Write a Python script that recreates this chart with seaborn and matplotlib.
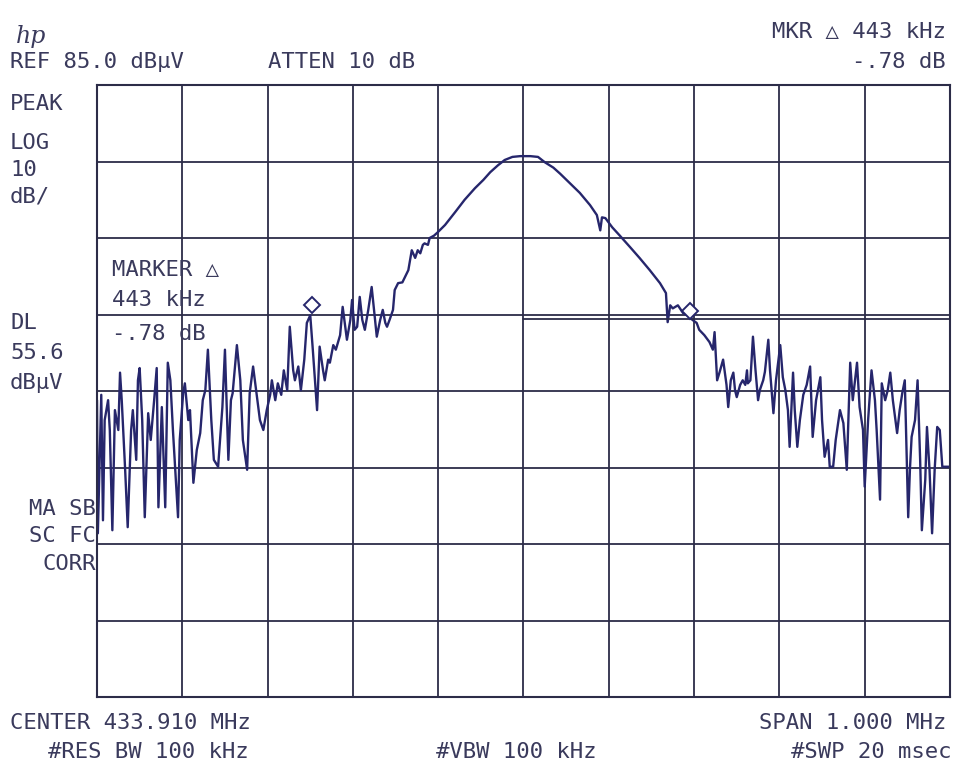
import numpy as np
import pandas as pd
import matplotlib
matplotlib.use("Agg")
import matplotlib.pyplot as plt
import seaborn as sns

# Trace: frequency offset from centre (kHz) and level (dBuV)
freq_khz = [
    -500, -499, -495, -493, -491, -487, -485, -482, -479, -475, -473, -471, -467, -464,
    -460, -458, -454, -452, -450, -447, -444, -440, -437, -433, -430, -428, -424, -420,
    -417, -414, -411, -405, -403, -399, -397, -393, -391, -387, -383, -379, -376, -373,
    -370, -366, -363, -358, -353, -350, -346, -343, -341, -336, -332, -329, -324, -321,
    -317, -312, -309, -305, -301, -297, -295, -291, -288, -284, -281, -277, -274, -270,
    -268, -264, -261, -257, -254, -250, -247, -242, -239, -235, -233, -229, -227, -223,
    -220, -215, -212, -207, -203, -201, -198, -195, -192, -189, -186, -182, -178, -174,
    -172, -168, -165, -162, -160, -157, -153, -151, -147, -142, -139, -135, -133, -131,
    -127, -124, -121, -118, -116, -112, -110, -105, -101,
    -92, -80, -69, -57, -47, -39, -30, -22, -13, -4, 8, 17, 25, 35, 43, 54, 66, 78, 86,
    90, 92, 96, 104, 113, 125, 136, 148, 160, 167, 169, 172, 175, 181, 187, 193, 198,
    203, 206, 212, 218, 222, 224, 227, 230, 234, 238, 240, 243, 246, 248, 250, 254, 257,
    260, 262, 263, 266, 269, 272, 275, 277, 281, 283, 287, 289, 293, 296, 301, 304, 307,
    310, 312, 316, 318, 321, 324, 328, 332, 336, 339, 343, 348, 350, 353, 357, 359, 363,
    366, 371, 375, 379, 383, 386, 391, 394, 398, 400, 404, 408, 412, 414, 418, 420, 424,
    427, 430, 433, 438, 441, 444, 447, 451, 453, 455, 459, 462, 465, 467, 471, 473, 476,
    479, 482, 485, 488, 491, 500,
]
level_dbuv = [
    43.8, 26.4, 44.5, 28.1, 41.2, 43.8, 39.9, 26.8, 42.5, 39.9, 47.4, 43.8, 34.7, 27.2,
    39.9, 42.5, 36.0, 46.4, 48.0, 41.2, 28.5, 42.1, 38.6, 43.8, 48.0, 29.8, 42.9, 29.8,
    48.7, 46.4, 39.9, 28.5, 38.6, 44.7, 46.0, 41.2, 42.5, 33.0, 37.3, 39.5, 43.8, 45.1,
    50.4, 41.2, 36.0, 35.1, 42.9, 50.4, 36.0, 43.8, 44.7, 51.0, 46.4, 38.6, 34.7, 44.7,
    48.2, 43.8, 41.2, 39.9, 42.5, 44.5, 46.4, 43.8, 46.0, 44.5, 47.7, 45.1, 53.4, 47.7,
    46.4, 48.2, 45.1, 49.1, 53.9, 54.9, 50.4, 42.5, 50.8, 47.7, 46.4, 49.1, 48.7, 51.0,
    50.4, 52.3, 56.0, 51.7, 54.3, 56.9, 53.0, 53.4, 57.3, 54.3, 53.0, 55.6, 58.6, 54.3,
    52.1, 54.3, 55.6, 53.9, 53.4, 54.3, 55.6, 58.2, 59.1, 59.2, 59.9, 60.8, 62.1, 63.4,
    62.4, 63.4, 63.0, 64.1, 64.3, 64.1, 65.0, 65.3, 65.7,
    66.7, 68.4, 70.0, 71.5, 72.6, 73.6, 74.5, 75.2, 75.6, 75.7, 75.7, 75.6, 74.9, 74.2,
    73.4, 72.2, 70.9, 69.3, 68.0,
    66.0, 67.7, 67.6, 66.4, 65.3, 63.8, 62.4, 60.8, 59.1, 57.8, 54.0, 56.2, 55.8, 56.2,
    55.2, 54.9, 54.3, 53.9, 53.0, 52.3, 51.4, 50.4, 52.7, 46.4, 47.5, 49.1, 45.8, 42.9,
    46.4, 47.4, 45.1, 44.2, 45.8, 46.4, 45.8, 47.7, 46.0, 46.4, 52.1, 47.7, 43.8, 45.1,
    46.4, 47.5, 51.7, 47.7, 42.1, 46.4, 51.0, 46.8, 45.1, 42.5, 37.7, 47.4, 42.5, 37.7,
    41.2, 44.5, 45.8, 48.2, 39.0, 43.8, 46.8, 41.2, 36.4, 38.6, 35.1, 35.1, 38.6, 42.5,
    40.8, 34.7, 48.7, 43.8, 48.7, 42.9, 39.9, 32.5, 41.2, 47.7, 43.8, 39.9, 30.8, 46.0,
    43.8, 45.1, 47.4, 43.8, 39.5, 42.5, 44.7, 46.4, 28.5, 34.7, 39.0, 41.2, 46.4, 36.0,
    26.8, 33.4, 40.3, 34.7, 26.4, 34.7, 40.3, 39.9, 35.1, 35.1,
]

# Markers (reference and delta) and display line
marker_khz = [-248, 195]
marker_db = [56.3, 55.5]
dl_start_khz = 0
dl_level = 54.4

ref_level = 85.0
db_per_div = 10
span_khz = 1000

df = pd.DataFrame({"freq": freq_khz, "level": level_dbuv})

sns.set_style("white")
plt.rcParams["font.family"] = ["DejaVu Sans Mono", "DejaVu Sans"]

W, H = 954, 769
fig = plt.figure(figsize=(W / 100, H / 100), dpi=100)
ax = fig.add_axes([97 / W, 1 - 697 / H, 853 / W, 612 / H])

grid_col = "#2c2c48"
trace_col = "#26266c"
text_col = "#3a3a5c"

sns.lineplot(data=df, x="freq", y="level", ax=ax, color=trace_col, linewidth=1.7,
             sort=False, estimator=None)

ax.set_xlim(-span_khz / 2, span_khz / 2)
ax.set_ylim(ref_level - 8 * db_per_div, ref_level)
ax.set_xticks(np.arange(-500, 501, 100))
ax.set_yticks(np.arange(5, 86, 10))
ax.grid(True, color=grid_col, linewidth=1.3)
ax.tick_params(length=0, labelbottom=False, labelleft=False)
ax.set_xlabel("")
ax.set_ylabel("")
for s in ax.spines.values():
    s.set_color(grid_col)
    s.set_linewidth(1.5)

# display line over the right half
ax.plot([dl_start_khz, span_khz / 2], [dl_level, dl_level], color=grid_col, linewidth=1.3)

# marker diamonds
ax.plot(marker_khz, marker_db, linestyle="none", marker="D", markersize=8,
        markerfacecolor="white", markeredgecolor=trace_col, markeredgewidth=1.4)


def put(x, y, s, ha="left", size=16, **kw):
    fig.text(x / W, 1 - y / H, s, ha=ha, va="center", fontsize=size, color=text_col, **kw)


put(16, 36, "hp", size=17, style="italic", family="DejaVu Serif")
put(10, 62, "REF 85.0 dBµV")
put(268, 62, "ATTEN 10 dB")
put(946, 32, "MKR △ 443 kHz", ha="right")
put(946, 62, "-.78 dB", ha="right")

put(10, 104, "PEAK")
put(10, 143, "LOG")
put(10, 170, "10")
put(10, 196, "dB/")
put(10, 323, "DL")
put(10, 353, "55.6")
put(10, 383, "dBµV")
put(96, 509, "MA SB", ha="right")
put(96, 536, "SC FC", ha="right")
put(96, 564, "CORR", ha="right")

put(112, 270, "MARKER △")
put(112, 300, "443 kHz")
put(112, 334, "-.78 dB")

put(10, 723, "CENTER 433.910 MHz")
put(946, 723, "SPAN 1.000 MHz", ha="right")
put(48, 752, "#RES BW 100 kHz")
put(436, 752, "#VBW 100 kHz")
put(952, 752, "#SWP 20 msec", ha="right")

fig.savefig("out.png", dpi=100, facecolor="white")
